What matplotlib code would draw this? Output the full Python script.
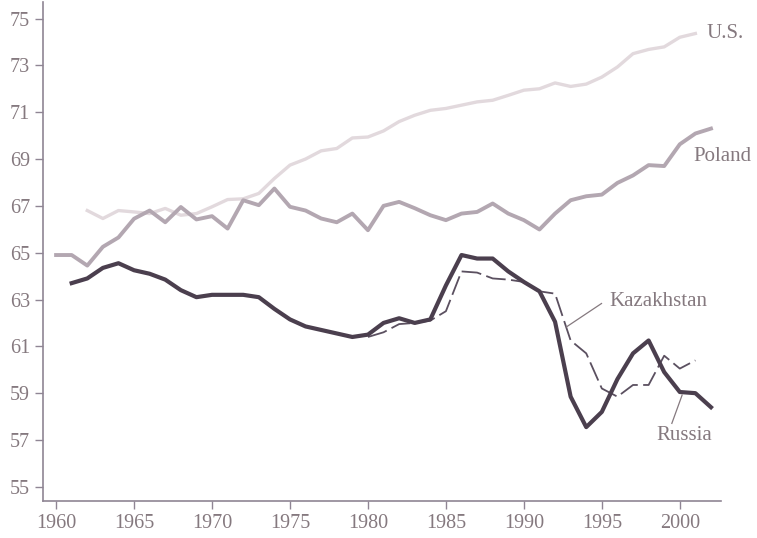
import numpy as np
import matplotlib
matplotlib.use("Agg")
import matplotlib.pyplot as plt

plt.rcParams['font.family'] = ['Liberation Serif', 'DejaVu Serif']

# life expectancy at birth
years_russia = np.arange(1961, 2003)
russia = [63.7, 63.9, 64.35, 64.55, 64.25, 64.1, 63.85, 63.4, 63.1, 63.2,
          63.2, 63.2, 63.1, 62.6, 62.15, 61.85, 61.7, 61.55, 61.4, 61.5,
          62.0, 62.2, 62.0, 62.15, 63.6, 64.9, 64.75, 64.75, 64.2, 63.75,
          63.35, 62.05, 58.85, 57.55, 58.2, 59.6, 60.7, 61.25, 59.9, 59.05,
          59.0, 58.4]

years_kaz = np.arange(1980, 2002)
kazakhstan = [61.4, 61.6, 61.95, 62.0, 62.1, 62.5, 64.2, 64.15, 63.9, 63.85,
              63.75, 63.35, 63.25, 61.25, 60.7, 59.2, 58.85, 59.35, 59.35, 60.6,
              60.05, 60.4]

years_pol = np.arange(1960, 2003)
poland = [64.9, 64.9, 64.45, 65.25, 65.65, 66.45, 66.8, 66.3, 66.95, 66.42,
          66.56, 66.03, 67.24, 67.03, 67.74, 66.96, 66.8, 66.46, 66.3, 66.67,
          65.96, 67.0, 67.17, 66.9, 66.6, 66.39, 66.67, 66.74, 67.1, 66.67,
          66.39, 65.99, 66.67, 67.24, 67.41, 67.48, 67.98, 68.3, 68.74, 68.7,
          69.63, 70.09, 70.3]

years_us = np.arange(1962, 2002)
us = [66.8, 66.46, 66.8, 66.74, 66.67, 66.89, 66.6, 66.67, 66.96, 67.27,
      67.3, 67.53, 68.17, 68.74, 69.0, 69.35, 69.45, 69.9, 69.94, 70.2,
      70.6, 70.87, 71.08, 71.16, 71.3, 71.44, 71.51, 71.72, 71.94, 72.0,
      72.25, 72.1, 72.2, 72.5, 72.93, 73.5, 73.68, 73.79, 74.2, 74.36]

text_col = '#85797f'
axis_col = '#8f8594'

fig = plt.figure(figsize=(7.57, 5.38), dpi=100)
ax = fig.add_axes([0.057, 0.069, 0.896, 0.927])

ax.plot(years_us, us, color='#e2d9dd', lw=2.4, solid_joinstyle='round')
ax.plot(years_pol, poland, color='#b3a7b1', lw=2.8, solid_joinstyle='round')
ax.plot(years_kaz, kazakhstan, color='#5b5060', lw=1.3, dashes=(11, 3))
ax.plot(years_russia, russia, color='#4b3f4e', lw=3.0, solid_joinstyle='round')

ax.set_xlim(1959.17, 2002.67)
ax.set_ylim(54.4, 75.7)
ax.set_xticks(range(1960, 2001, 5))
ax.set_yticks(range(55, 76, 2))

for s in ['top', 'right']:
    ax.spines[s].set_visible(False)
for s in ['left', 'bottom']:
    ax.spines[s].set_color(axis_col)
    ax.spines[s].set_linewidth(1.2)
ax.tick_params(colors=axis_col, labelcolor=text_col, labelsize=14.5,
               length=6, width=1.0)

lab = dict(color=text_col, fontsize=15, va='center', ha='left', clip_on=False)
ax.text(2001.7, 74.36, 'U.S.', **lab)
ax.text(2000.85, 69.1, 'Poland', **lab)
ax.text(1995.5, 62.9, 'Kazakhstan', **lab)
ax.text(1998.5, 57.2, 'Russia', **lab)
ax.plot([1992.73, 1994.98], [61.83, 62.83], color=text_col, lw=0.9)
ax.plot([1999.49, 2000.15], [57.71, 58.92], color=text_col, lw=0.9)

fig.savefig('out.png', dpi=100)
